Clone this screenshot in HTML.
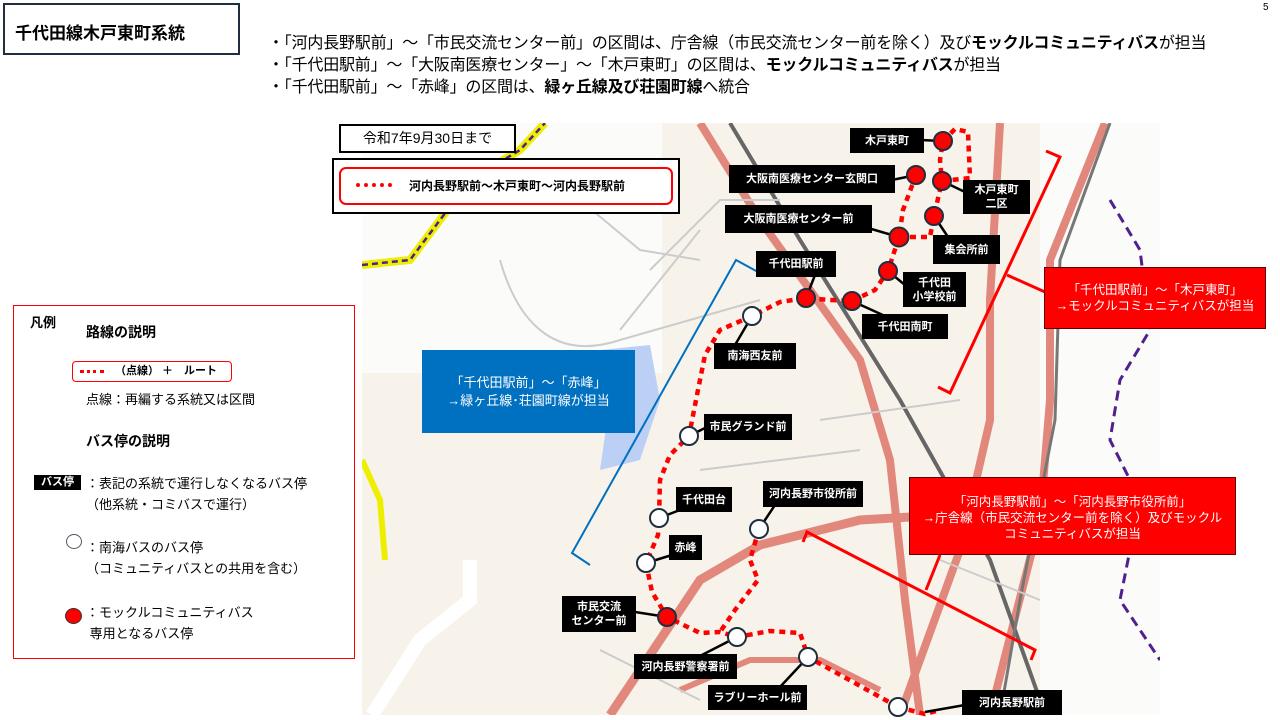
<!DOCTYPE html>
<html><head><meta charset="utf-8"><style>
*{margin:0;padding:0;box-sizing:border-box}
body{width:1280px;height:720px;background:#fff;position:relative;overflow:hidden;font-family:"Liberation Sans","Noto Sans CJK JP",sans-serif;color:#000}
.a{position:absolute}
.lbl{position:absolute;background:#000;color:#fff;font-size:11px;font-weight:bold;display:flex;align-items:center;justify-content:center;text-align:center;line-height:14px;white-space:nowrap}
.bul{position:absolute;left:268px;font-size:16px;white-space:nowrap;line-height:22px;letter-spacing:-0.2px}
</style></head><body>
<div class="a" style="left:3px;top:3px;width:237px;height:52px;border:2px solid #1f2f3f;font-size:17px;font-weight:bold;padding:14px 0 0 10px">千代田線木戸東町系統</div>
<div class="a" style="left:1263px;top:2px;font-size:10px">5</div>
<div class="bul" style="top:33px">・「河内長野駅前」～「市民交流センター前」の区間は、庁舎線（市民交流センター前を除く）及び<b>モックルコミュニティバス</b>が担当</div>
<div class="bul" style="top:55px">・「千代田駅前」～「大阪南医療センター」～「木戸東町」の区間は、<b>モックルコミュニティバス</b>が担当</div>
<div class="bul" style="top:77px">・「千代田駅前」～「赤峰」の区間は、<b>緑ヶ丘線及び荘園町線</b>へ統合</div>

<svg class="a" style="left:0;top:0" width="1280" height="720">
<defs><clipPath id="m"><rect x="362" y="123" width="798" height="592"/></clipPath></defs>
<g clip-path="url(#m)">
<rect x="362" y="123" width="798" height="592" fill="#f8f3ea"/>
<rect x="362" y="123" width="300" height="250" fill="#fbfbfa"/>
<rect x="1040" y="123" width="120" height="592" fill="#fbfbfa"/>
<path d="M600,350 L650,345 L660,400 L640,460 L600,470 L610,400Z" fill="#bcd0f5"/>
<path d="M372,715 L420,640 L470,600 L470,560" stroke="#fff" stroke-width="14" fill="none"/>
<path d="M362,265 L410,260 L440,220 L470,180 L520,150 L545,123" stroke="#ee0" stroke-width="8" fill="none"/>
<path d="M362,265 L410,260 L440,220 L470,180 L520,150 L545,123" stroke="#50208f" stroke-width="2.5" fill="none" stroke-dasharray="6 4"/>
<path d="M362,460 L380,500 L385,560" stroke="#ee0" stroke-width="6" fill="none"/>
<path d="M700,123 L760,220 L860,360 L890,460 L905,600 L920,715" stroke="#e2877c" stroke-width="8" fill="none"/>
<path d="M1000,123 L990,300 L990,420 L960,550 L900,715" stroke="#e2877c" stroke-width="8" fill="none"/>
<path d="M1105,123 L1050,260 L1050,400 L1040,520 L990,715" stroke="#e2877c" stroke-width="8" fill="none"/>
<path d="M730,123 L800,240 L900,400 L990,560 L1040,700" stroke="#666" stroke-width="4" fill="none"/>
<path d="M1110,123 L1060,260 L1055,420 L1020,600 L1000,715" stroke="#777" stroke-width="3" fill="none"/>
<path d="M610,715 L700,580 L760,545 L860,520 L1030,510" stroke="#e2877c" stroke-width="9" fill="none"/>
<path d="M680,690 L750,660 L820,660 L880,690" stroke="#e2877c" stroke-width="6" fill="none"/>
<path d="M1110,200 L1140,250 L1150,330 L1120,380 L1110,440 L1140,500 L1120,600 L1160,660" stroke="#50208f" stroke-width="3" fill="none" stroke-dasharray="10 6"/>
<g stroke="#ccc" stroke-width="2" fill="none">
<path d="M500,260 C520,330 560,360 620,340 L760,300"/><path d="M580,200 L640,250 L700,260"/>
<path d="M650,270 L720,200 L780,200"/><path d="M620,330 L700,230"/><path d="M940,560 L1040,600"/>
<path d="M820,420 L960,400"/><path d="M700,470 L860,450"/><path d="M600,650 L700,700"/>
</g>
</g>
<g fill="none" stroke="#f00" stroke-width="4.5" stroke-dasharray="6 5">
<path d="M898,707 L925,714 L940,710 M898,707 L808,657 L800,633 L770,631 L737,637 L720,632 L700,633 L667,617 L652,592 L646,563 L658,535 L659,518 L660,480 L670,455 L689,436 L697,395 L705,355 L720,330 L752,316 L780,302 L806,298 L830,300 L852,301 L875,290 L888,271 L899,237 L903,210 L916,175 M899,237 L930,237 L934,216 L942,181 L970,178 L968,132 L955,129 L943,141 L940,160 L942,181"/>
<path d="M759,529 L750,560 L758,580 L735,610 L720,632"/>
</g>
<g stroke="#000" stroke-width="2.5">
<line x1="943" y1="141" x2="920" y2="140"/><line x1="916" y1="175" x2="892" y2="180"/><line x1="942" y1="181" x2="965" y2="192"/>
<line x1="899" y1="237" x2="868" y2="228"/><line x1="934" y1="216" x2="950" y2="240"/><line x1="806" y1="298" x2="815" y2="275"/>
<line x1="888" y1="271" x2="905" y2="285"/><line x1="852" y1="301" x2="885" y2="316"/><line x1="752" y1="316" x2="735" y2="345"/>
<line x1="689" y1="436" x2="705" y2="428"/><line x1="659" y1="518" x2="680" y2="510"/><line x1="759" y1="529" x2="775" y2="505"/>
<line x1="646" y1="563" x2="672" y2="555"/><line x1="667" y1="617" x2="635" y2="612"/><line x1="737" y1="637" x2="700" y2="656"/>
<line x1="808" y1="657" x2="780" y2="687"/><line x1="925" y1="712" x2="965" y2="705"/>
</g>
<g stroke="#1f2f3f" stroke-width="2">
<g fill="#f00"><circle cx="943" cy="141" r="9"/><circle cx="916" cy="175" r="9"/><circle cx="942" cy="181" r="9"/><circle cx="899" cy="237" r="9.5"/><circle cx="934" cy="216" r="9"/><circle cx="806" cy="298" r="9"/><circle cx="888" cy="271" r="9"/><circle cx="852" cy="301" r="9"/><circle cx="667" cy="617" r="9"/></g>
<g fill="#fff"><circle cx="752" cy="316" r="9"/><circle cx="689" cy="436" r="9"/><circle cx="659" cy="518" r="9"/><circle cx="759" cy="529" r="9"/><circle cx="646" cy="563" r="9"/><circle cx="737" cy="637" r="9"/><circle cx="808" cy="657" r="9"/><circle cx="898" cy="707" r="9"/></g>
</g>
<polyline points="758,272 736,260 572,553 590,565" stroke="#0070c0" stroke-width="2" fill="none"/>
<polyline points="1046,151 1060,157 950,393 938,387" stroke="#f00" stroke-width="3" fill="none"/>
<line x1="1007" y1="275" x2="1045" y2="292" stroke="#f00" stroke-width="3"/>
<polyline points="803,542 807,532 1035,650 1031,660" stroke="#f00" stroke-width="3" fill="none"/>
<line x1="940" y1="555" x2="926" y2="590" stroke="#f00" stroke-width="3"/>
</svg>

<div class="lbl" style="left:850px;top:128px;width:74px;height:25px">木戸東町</div>
<div class="lbl" style="left:729px;top:165px;width:166px;height:28px">大阪南医療センター玄関口</div>
<div class="lbl" style="left:963px;top:180px;width:67px;height:34px">木戸東町<br>二区</div>
<div class="lbl" style="left:725px;top:205px;width:147px;height:28px">大阪南医療センター前</div>
<div class="lbl" style="left:933px;top:235px;width:67px;height:29px">集会所前</div>
<div class="lbl" style="left:756px;top:251px;width:80px;height:26px">千代田駅前</div>
<div class="lbl" style="left:903px;top:272px;width:63px;height:35px">千代田<br>小学校前</div>
<div class="lbl" style="left:862px;top:314px;width:86px;height:25px">千代田南町</div>
<div class="lbl" style="left:714px;top:343px;width:82px;height:26px">南海西友前</div>
<div class="lbl" style="left:704px;top:414px;width:88px;height:26px">市民グランド前</div>
<div class="lbl" style="left:676px;top:487px;width:56px;height:25px">千代田台</div>
<div class="lbl" style="left:763px;top:481px;width:100px;height:26px">河内長野市役所前</div>
<div class="lbl" style="left:669px;top:535px;width:33px;height:25px">赤峰</div>
<div class="lbl" style="left:562px;top:596px;width:74px;height:36px">市民交流<br>センター前</div>
<div class="lbl" style="left:634px;top:654px;width:103px;height:25px">河内長野警察署前</div>
<div class="lbl" style="left:708px;top:685px;width:99px;height:25px">ラブリーホール前</div>
<div class="lbl" style="left:962px;top:690px;width:100px;height:25px">河内長野駅前</div>

<div class="a" style="left:339px;top:124px;width:177px;height:29px;border:2px solid #000;background:#fff;font-size:14px;text-align:center;line-height:25px">令和7年9月30日まで</div>
<div class="a" style="left:332px;top:158px;width:348px;height:56px;border:2px solid #000;background:#fff">
<div class="a" style="left:5px;top:7px;width:334px;height:38px;border:2px solid #f00;border-radius:7px;font-size:12px;font-weight:bold;line-height:34px;padding-left:68px">河内長野駅前～木戸東町～河内長野駅前</div>
<div class="a" style="left:22px;top:23px;width:36px;border-top:4px dotted #f00"></div>
</div>

<div class="a" style="left:422px;top:350px;width:213px;height:83px;background:#0070c0;color:#fff;font-size:13px;text-align:center;line-height:18px;padding-top:24px">「千代田駅前」～「赤峰」<br>→緑ヶ丘線･荘園町線が担当</div>
<div class="a" style="left:1044px;top:267px;width:222px;height:62px;background:#f00;border:1px solid #600;color:#fff;font-size:12.5px;text-align:center;line-height:16px;padding-top:14px">「千代田駅前」～「木戸東町」<br>→モックルコミュニティバスが担当</div>
<div class="a" style="left:909px;top:477px;width:327px;height:78px;background:#f00;border:1px solid #600;color:#fff;font-size:12.5px;text-align:center;line-height:16px;padding-top:16px">「河内長野駅前」～「河内長野市役所前」<br>→庁舎線（市民交流センター前を除く）及びモックル<br>コミュニティバスが担当</div>

<div class="a" style="left:13px;top:305px;width:342px;height:354px;border:1px solid #f00;background:#fff;font-size:13px">
<div class="a" style="left:16px;top:6px;font-weight:bold">凡例</div>
<div class="a" style="left:72px;top:16px;font-weight:bold;font-size:14px">路線の説明</div>
<div class="a" style="left:58px;top:55px;width:160px;height:21px;border:1.5px solid #f00;border-radius:4px;font-size:11px;font-weight:bold;line-height:18px;padding-left:42px">（点線） ＋　ルート</div>
<div class="a" style="left:66px;top:64px;width:24px;border-top:3px dotted #f00"></div>
<div class="a" style="left:72px;top:83px">点線：再編する系統又は区間</div>
<div class="a" style="left:72px;top:125px;font-weight:bold;font-size:14px">バス停の説明</div>
<div class="a" style="left:20px;top:169px;width:47px;height:15px;background:#000;color:#fff;font-size:11px;font-weight:bold;text-align:center;line-height:15px">バス停</div>
<div class="a" style="left:72px;top:167px;line-height:21px">：表記の系統で運行しなくなるバス停<br>（他系統・コミバスで運行）</div>
<div class="a" style="left:52px;top:228px;width:16px;height:15px;border:1px solid #556;border-radius:50%"></div>
<div class="a" style="left:72px;top:231px;line-height:21px">：南海バスのバス停<br>（コミュニティバスとの共用を含む）</div>
<div class="a" style="left:51px;top:302px;width:17px;height:16px;border:1px solid #333;border-radius:50%;background:#f00"></div>
<div class="a" style="left:72px;top:296px;line-height:21px">：モックルコミュニティバス<br>&nbsp;専用となるバス停</div>
</div>
</body></html>
